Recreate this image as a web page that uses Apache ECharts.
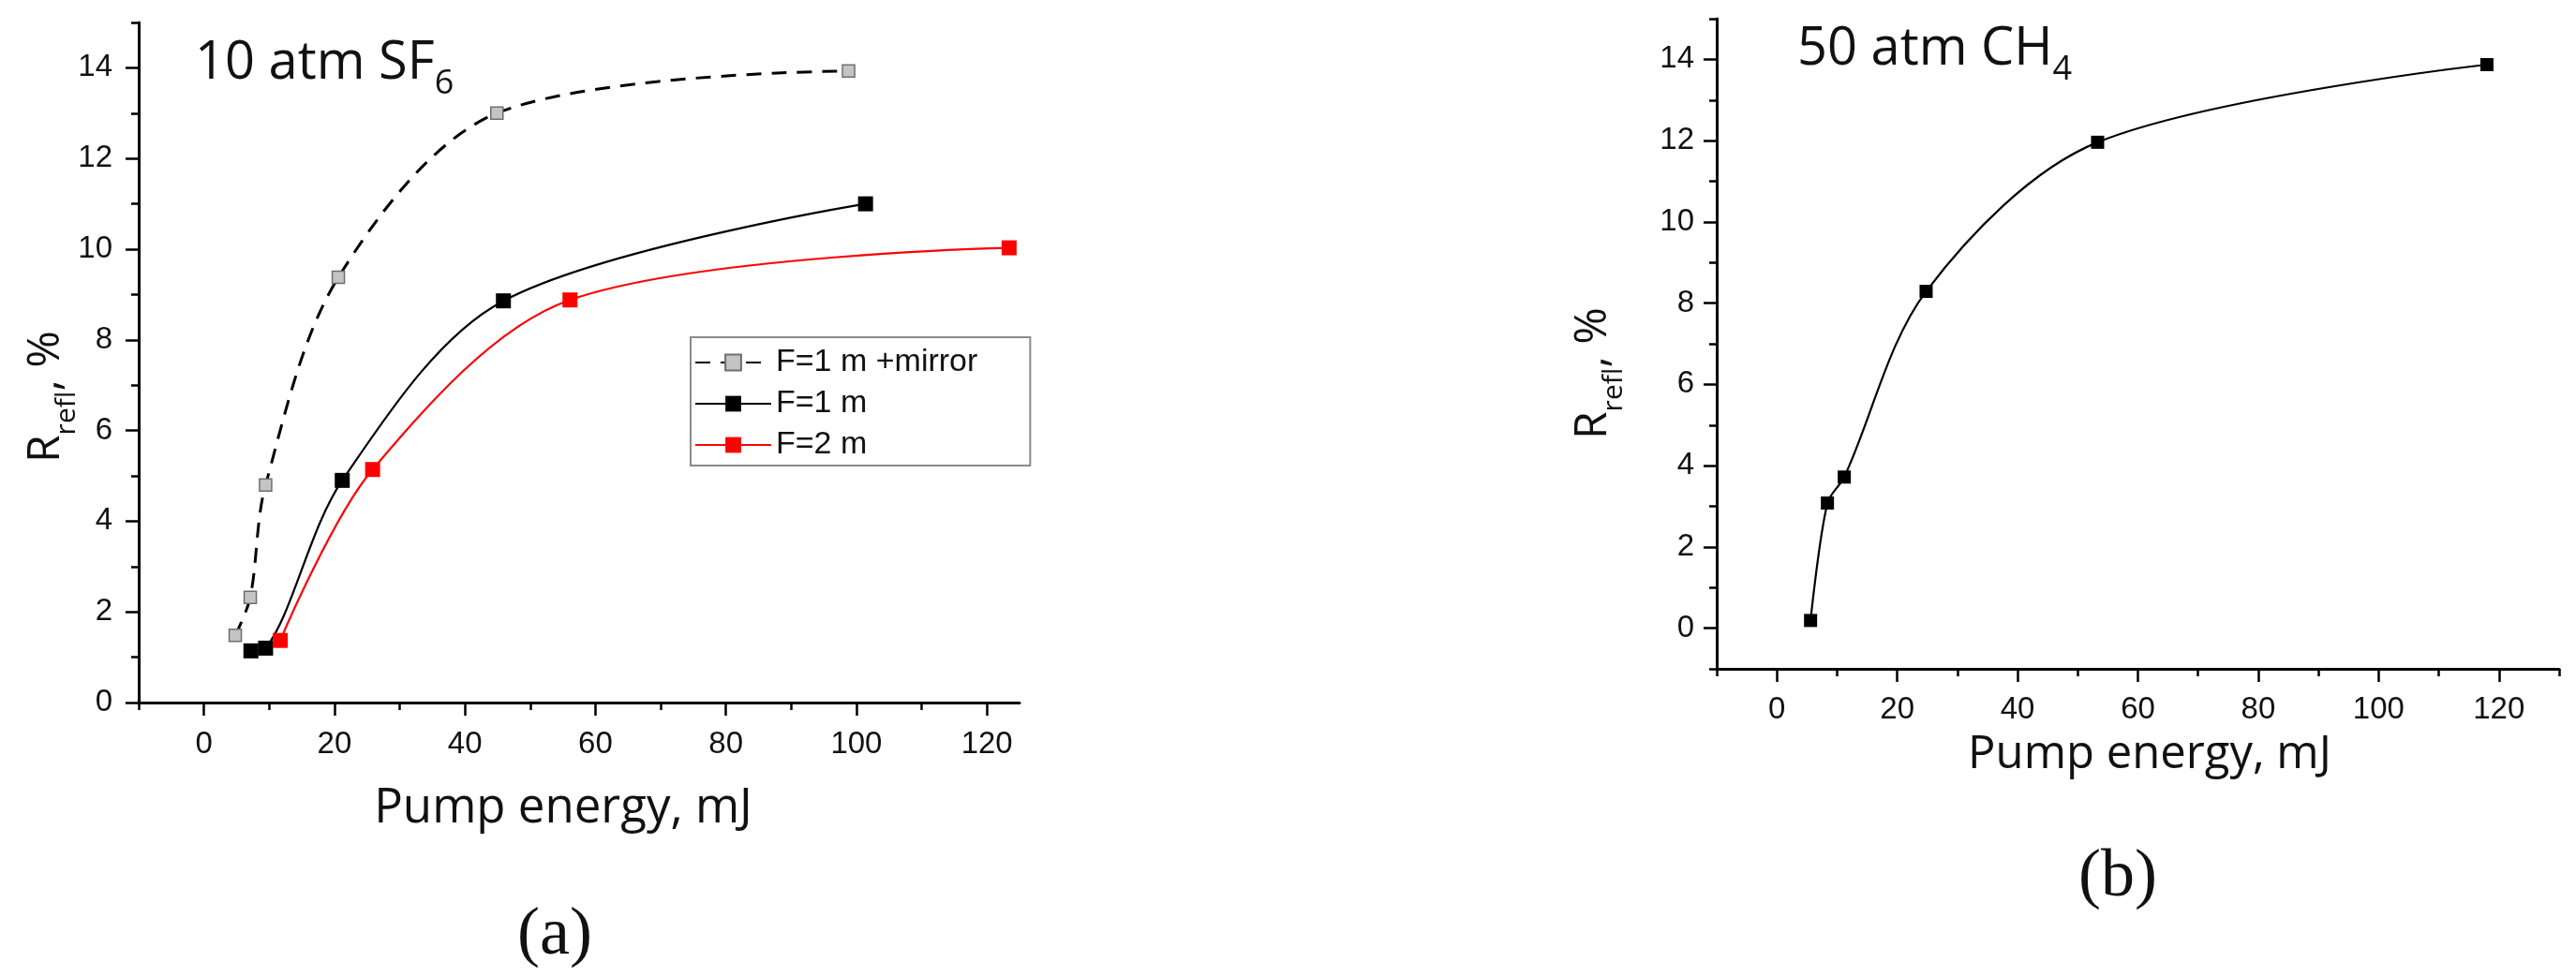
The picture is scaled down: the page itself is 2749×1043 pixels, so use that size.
<!DOCTYPE html>
<html><head><meta charset="utf-8">
<script src="https://cdn.jsdelivr.net/npm/echarts@6/dist/echarts.min.js"></script>
<style>html,body{margin:0;padding:0;background:#fff}#c{width:2749px;height:1043px}</style>
</head><body><div id="c"></div>
<script>
// ---- data ----
const nameMirror = 'F=1 m +mirror';
const nameF1 = 'F=1 m';
const nameF2 = 'F=2 m';
const xMirror = [4.8, 7.1, 9.45, 20.6, 44.9, 98.8];
const yMirror = [1.48, 2.32, 4.80, 9.38, 13.0, 13.93];
const xF1 = [7.2, 9.45, 21.2, 45.9, 101.4];
const yF1 = [1.14, 1.20, 4.90, 8.86, 11.0];
const xF2 = [11.7, 25.85, 56.1, 123.4];
const yF2 = [1.37, 5.14, 8.88, 10.03];
const xCH4 = [5.6, 8.4, 11.2, 24.8, 53.3, 118.0];
const yCH4 = [0.19, 3.08, 3.72, 8.29, 11.96, 13.87];

// ---- ticks ----
const xMajorA = [0, 20, 40, 60, 80, 100, 120];
const xMinorA = [-10, 10, 30, 50, 70, 90, 110];
const yMajorA = [0, 2, 4, 6, 8, 10, 12, 14];
const yMinorA = [1, 3, 5, 7, 9, 11, 13, 15];
const xMajorB = [0, 20, 40, 60, 80, 100, 120];
const xMinorB = [-10, 10, 30, 50, 70, 90, 110, 130];
const yMajorB = [0, 2, 4, 6, 8, 10, 12, 14];
const yMinorB = [-1, 1, 3, 5, 7, 9, 11, 13, 15];

// ---- texts ----
const titleA = ['10 atm SF', '6'];
const titleB = ['50 atm CH', '4'];
const yTitle = ['R', 'refl', ', %'];
const xTitle = 'Pump energy, mJ';
const panelA = '(a)';
const panelB = '(b)';

function pairs(xs, ys) { return xs.map((x, i) => [x, ys[i]]); }

const mctx = document.createElement('canvas').getContext('2d');
function fontStr(size, fam) { return size + 'px ' + fam; }
function measure(t, size, fam) { mctx.font = fontStr(size, fam); return mctx.measureText(t).width; }
function midOff(size, fam) {
  mctx.font = fontStr(size, fam);
  mctx.textBaseline = 'alphabetic';
  const m = mctx.measureText('Hg');
  if (m.fontBoundingBoxAscent != null) return (m.fontBoundingBoxAscent - m.fontBoundingBoxDescent) / 2;
  return size * 0.36;
}
const INK = '#111';
function textRun(x0, y0, rot, pieces) {
  let cx = 0; const ch = [];
  for (const p of pieces) {
    ch.push({ type: 'text', x: cx, y: (p.dy || 0) - midOff(p.size, p.fam),
      style: { text: p.t, fontSize: p.size, fontFamily: p.fam, fill: INK, align: 'left', verticalAlign: 'middle' } });
    cx += measure(p.t, p.size, p.fam);
  }
  return { type: 'group', x: x0, y: y0, rotation: rot, children: ch };
}
function centered(x, baseline, t, size, fam) {
  return { type: 'text', x: x, y: baseline - midOff(size, fam),
    style: { text: t, fontSize: size, fontFamily: fam, fill: INK, align: 'center', verticalAlign: 'middle' } };
}

const SANS = 'Open Sans';
const TICKF = 'Liberation Sans';
const SERIF = 'Liberation Serif';

function majorAxis(grid, min, max, ticks, margin, pos) {
  return { type: 'value', gridIndex: grid, min: min, max: max, position: pos,
    axisLine: { show: true, onZero: false, lineStyle: { color: '#000', width: 3 } },
    axisTick: { show: true, customValues: ticks, length: 14, lineStyle: { color: '#000', width: 2.5 } },
    axisLabel: { show: true, customValues: ticks, margin: margin, fontSize: 33, fontFamily: TICKF, color: INK },
    splitLine: { show: false }, minorTick: { show: false } };
}
function minorAxis(grid, min, max, ticks, pos) {
  return { type: 'value', gridIndex: grid, min: min, max: max, position: pos,
    axisLine: { show: false, onZero: false },
    axisTick: { show: true, customValues: ticks, length: 8, lineStyle: { color: '#000', width: 2.5 } },
    axisLabel: { show: false }, splitLine: { show: false } };
}

const SM = 0.32;
const chart = echarts.init(document.getElementById('c'));
const option = {
  animation: false,
  backgroundColor: '#fff',
  grid: [
    { left: 148, top: 24, width: 940, height: 726 },
    { left: 1832, top: 20, width: 899, height: 694 }
  ],
  xAxis: [
    majorAxis(0, -10, 125, xMajorA, 28, 'bottom'),
    minorAxis(0, -10, 125, xMinorA, 'bottom'),
    majorAxis(1, -10, 130, xMajorB, 27, 'bottom'),
    minorAxis(1, -10, 130, xMinorB, 'bottom')
  ],
  yAxis: [
    majorAxis(0, 0, 15, yMajorA, 28, 'left'),
    minorAxis(0, 0, 15, yMinorA, 'left'),
    majorAxis(1, -1, 15, yMajorB, 24, 'left'),
    minorAxis(1, -1, 15, yMinorB, 'left')
  ],
  legend: {
    show: true, data: [nameMirror, nameF1, nameF2], orient: 'vertical',
    left: 737, top: 360, itemWidth: 81, itemHeight: 21, itemGap: 4,
    padding: [7, 56, 2, 4], borderColor: '#8a8a8a', borderWidth: 2, selectedMode: false,
    textStyle: { fontSize: 34, fontFamily: TICKF, color: INK, lineHeight: 40 }
  },
  series: [
    { name: nameMirror, type: 'line', xAxisIndex: 0, yAxisIndex: 0, data: pairs(xMirror, yMirror),
      smooth: SM, symbol: 'rect', symbolSize: 13,
      lineStyle: { color: '#000', width: 3, type: [16, 11] },
      itemStyle: { color: '#c4c4c4', borderColor: '#6e6e6e', borderWidth: 1.5 } },
    { name: nameF1, type: 'line', xAxisIndex: 0, yAxisIndex: 0, data: pairs(xF1, yF1),
      smooth: SM, symbol: 'rect', symbolSize: 16,
      lineStyle: { color: '#000', width: 2.2 }, itemStyle: { color: '#000' } },
    { name: nameF2, type: 'line', xAxisIndex: 0, yAxisIndex: 0, data: pairs(xF2, yF2),
      smooth: SM, symbol: 'rect', symbolSize: 16,
      lineStyle: { color: '#ff0000', width: 2.2 }, itemStyle: { color: '#ff0000' } },
    { name: 'CH4', type: 'line', xAxisIndex: 2, yAxisIndex: 2, data: pairs(xCH4, yCH4),
      smooth: SM, symbol: 'rect', symbolSize: 14,
      lineStyle: { color: '#000', width: 2.2 }, itemStyle: { color: '#000' } }
  ],
  graphic: [
    textRun(208, 90, 0, [{ t: titleA[0], size: 56, fam: SANS }, { t: titleA[1], size: 36, fam: SANS, dy: 13 }]),
    textRun(1918, 75, 0, [{ t: titleB[0], size: 56, fam: SANS }, { t: titleB[1], size: 36, fam: SANS, dy: 13 }]),
    textRun(68, 494, Math.PI / 2, [{ t: yTitle[0], size: 48, fam: SANS }, { t: yTitle[1], size: 30, fam: SANS, dy: 15 }, { t: yTitle[2], size: 48, fam: SANS }]),
    textRun(1719, 469, Math.PI / 2, [{ t: yTitle[0], size: 48, fam: SANS }, { t: yTitle[1], size: 30, fam: SANS, dy: 15 }, { t: yTitle[2], size: 48, fam: SANS }]),
    centered(601, 883, xTitle, 51, SANS),
    centered(2294, 825, xTitle, 49, SANS),
    centered(592, 1023, panelA, 72, SERIF),
    centered(2260, 961, panelB, 72, SERIF)
  ]
};
chart.setOption(option);
</script>
</body></html>
